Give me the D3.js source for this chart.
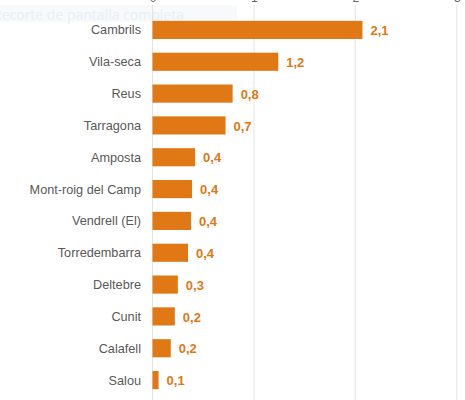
<!DOCTYPE html>
<html>
<head>
<meta charset="utf-8">
<script src="https://cdn.jsdelivr.net/npm/d3@7"></script>
<style>
  body { margin: 0; background: #fff; }
  svg { display: block; font-family: "Liberation Sans", Arial, sans-serif; }
</style>
</head>
<body>
<div class="chart"></div>
<script>
const municipis = ["Cambrils", "Vila-seca", "Reus", "Tarragona", "Amposta", "Mont-roig del Camp",
    "Vendrell (El)", "Torredembarra", "Deltebre", "Cunit", "Calafell", "Salou"];
const valors = [2.07, 1.24, 0.79, 0.72, 0.42, 0.39, 0.38, 0.35, 0.25, 0.22, 0.18, 0.06];
const etiquetes = ["2,1", "1,2", "0,8", "0,7", "0,4", "0,4", "0,4", "0,4", "0,3", "0,2", "0,2", "0,1"];
const ticksX = [0, 1, 2, 3];

const data = municipis.map((m, i) => ({ name: m, value: valors[i], label: etiquetes[i] }));

const width = 465, height = 400;
const orange = "#e07816";

const svg = d3.select(".chart").append("svg")
    .attr("width", width)
    .attr("height", height);

const x = d3.scaleLinear()
    .domain([0, 3])
    .range([152.5, 456.8]);

const y = d3.scaleBand()
    .domain(municipis)
    .range([14, 396])
    .paddingInner(0.43)
    .paddingOuter(0.215);

// faint screenshot-tool overlay (behind the chart)
svg.append("rect")
    .attr("x", 0)
    .attr("y", 5)
    .attr("width", 237)
    .attr("height", 17)
    .attr("fill", "#f7f9fc");
svg.append("text")
    .attr("x", -7)
    .attr("y", 20)
    .attr("font-size", 14)
    .attr("font-family", "Open Sans, sans-serif")
    .attr("fill", "#eaeef5")
    .text("Recorte de pantalla completa");

// gridlines
svg.append("g")
    .selectAll("line")
    .data(ticksX)
    .enter()
    .append("line")
    .attr("x1", d => x(d))
    .attr("x2", d => x(d))
    .attr("y1", 5)
    .attr("y2", height)
    .attr("stroke", "#e3e3e3")
    .attr("stroke-width", 1);

// top axis (cut off at the top of the picture)
const xAxis = d3.axisTop(x)
    .tickValues(ticksX)
    .tickSize(0)
    .tickPadding(3)
    .tickFormat(d3.format("d"));

svg.append("g")
    .attr("class", "x-axis")
    .attr("transform", "translate(0, 5)")
    .call(xAxis)
    .call(g => g.select(".domain").remove())
    .call(g => g.selectAll("text")
        .attr("fill", "#666")
        .attr("font-size", 12)
        .attr("font-family", "Liberation Sans, Arial, sans-serif"));

// bars
svg.selectAll(".bar")
    .data(data)
    .enter()
    .append("rect")
    .attr("class", "bar")
    .attr("x", x(0))
    .attr("y", d => y(d.name))
    .attr("width", d => x(d.value) - x(0))
    .attr("height", y.bandwidth())
    .attr("fill", orange);

// category labels
svg.selectAll(".cat")
    .data(data)
    .enter()
    .append("text")
    .attr("class", "cat")
    .attr("x", 141)
    .attr("y", d => y(d.name) + y.bandwidth() / 2)
    .attr("dy", "0.36em")
    .attr("text-anchor", "end")
    .attr("font-size", 12.7)
    .attr("fill", "#595959")
    .text(d => d.name);

// value labels
svg.selectAll(".val")
    .data(data)
    .enter()
    .append("text")
    .attr("class", "val")
    .attr("x", d => x(d.value) + 8)
    .attr("y", d => y(d.name) + y.bandwidth() / 2)
    .attr("dy", "0.4em")
    .attr("font-size", 13)
    .attr("font-weight", "bold")
    .attr("fill", orange)
    .text(d => d.label);
</script>
</body>
</html>
